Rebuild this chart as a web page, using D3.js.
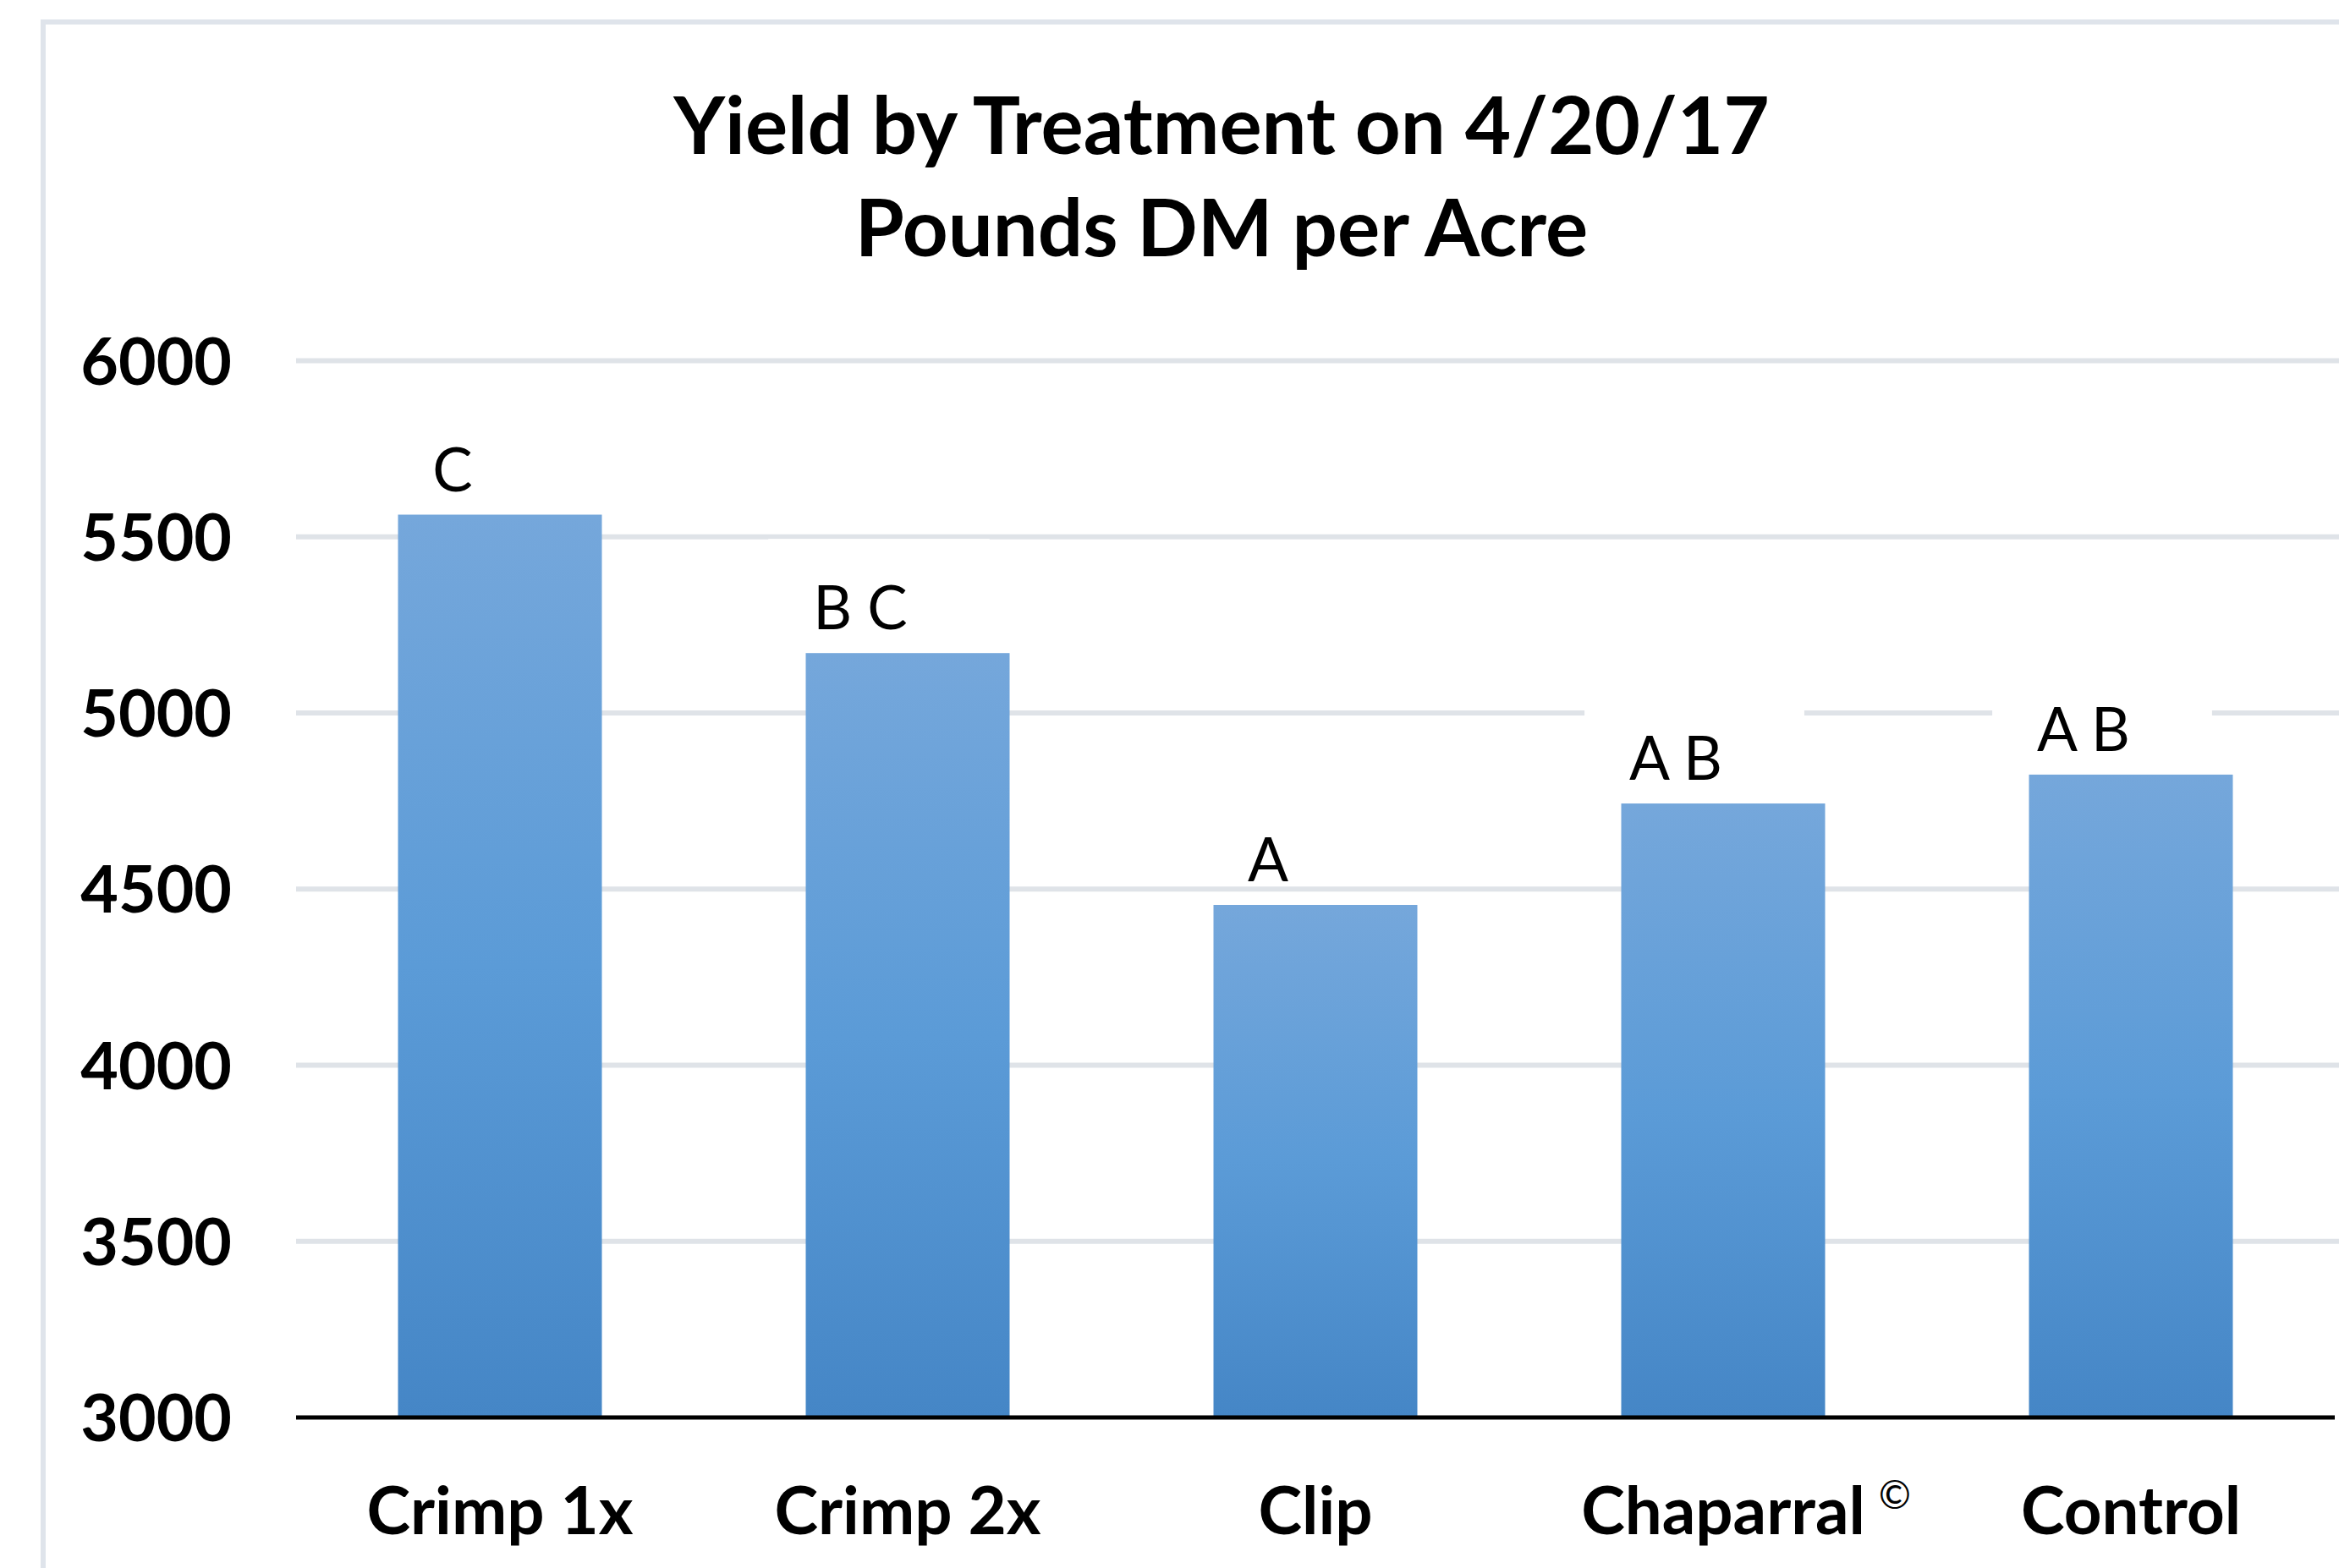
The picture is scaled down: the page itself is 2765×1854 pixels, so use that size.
<!DOCTYPE html>
<html>
<head>
<meta charset="utf-8">
<script src="https://cdn.jsdelivr.net/npm/d3@7"></script>
<style>
  html, body { margin: 0; padding: 0; background: #ffffff; }
  svg { display: block; }
</style>
</head>
<body>
<div id="chart"></div>
<script>
// ---- data ----
const categories = ["Crimp 1x", "Crimp 2x", "Clip", "Chaparral", "Control"];
const yieldValues = [5563, 5170, 4455, 4743, 4825];
const groupLetters = ["C", "B C", "A", "A B", "A B"];
const superscripts = ["", "", "", "\u00A9", ""];
const yTicks = [3000, 3500, 4000, 4500, 5000, 5500, 6000];
const titleLines = ["Yield by Treatment on 4/20/17", "Pounds DM per Acre"];

// ---- layout ----
const W = 2765, H = 1854;
const plotLeft = 350, plotRight = 2760, plotTop = 426.5, plotBottom = 1676;
const font = "Lato, 'Open Sans', sans-serif";

const svg = d3.select("#chart").append("svg")
  .attr("width", W).attr("height", H);

svg.append("rect").attr("width", W).attr("height", H).attr("fill", "#ffffff");

// chart frame (light border)
svg.append("path")
  .attr("d", `M51,${H + 10} L51,26 L${W + 10},26`)
  .attr("fill", "none").attr("stroke", "#dfe4eb").attr("stroke-width", 6);

// gradient
const defs = svg.append("defs");
const grad = defs.append("linearGradient").attr("id", "barGrad")
  .attr("x1", 0).attr("y1", 0).attr("x2", 0).attr("y2", 1);
grad.append("stop").attr("offset", "0%").attr("stop-color", "#75a7db");
grad.append("stop").attr("offset", "50%").attr("stop-color", "#5b9bd7");
grad.append("stop").attr("offset", "100%").attr("stop-color", "#4586c6");

const x = d3.scaleBand().domain(categories).range([plotLeft, plotRight])
  .paddingInner(0.5).paddingOuter(0.25);
const y = d3.scaleLinear().domain([3000, 6000]).range([plotBottom, plotTop]);

// gridlines
const yAxis = d3.axisLeft(y).tickValues(yTicks).tickFormat(d3.format("d"))
  .tickSize(0).tickPadding(0);
const gGrid = svg.append("g");
gGrid.selectAll("line").data(yTicks.filter(t => t !== 3000)).join("line")
  .attr("x1", plotLeft).attr("x2", W)
  .attr("y1", d => y(d)).attr("y2", d => y(d))
  .attr("stroke", "#dfe3e8").attr("stroke-width", 6);

// y axis labels
const gy = svg.append("g").attr("transform", `translate(274,0)`).call(yAxis);
gy.select(".domain").remove();
gy.selectAll("text")
  .attr("font-family", font).attr("font-weight", "bold")
  .attr("font-size", 77).attr("fill", "#000").attr("dy", "0.36em");

// bars
svg.append("g").selectAll("rect").data(categories).join("rect")
  .attr("x", d => x(d))
  .attr("width", x.bandwidth())
  .attr("y", (d, i) => y(yieldValues[i]))
  .attr("height", (d, i) => y(3000) - y(yieldValues[i]))
  .attr("fill", "url(#barGrad)");

// letter labels with white background boxes
const gLab = svg.append("g");
categories.forEach((c, i) => {
  const cx = x(c) + x.bandwidth() / 2 - 56;
  const by = y(yieldValues[i]) - 28;
  const g = gLab.append("g");
  const rect = g.append("rect").attr("fill", "#ffffff");
  const t = g.append("text")
    .attr("x", cx).attr("y", by)
    .attr("text-anchor", "middle")
    .attr("font-family", font).attr("font-size", 71)
    .attr("fill", "#000").text(groupLetters[i]);
  const w = t.node().getComputedTextLength();
  rect.attr("x", cx - w / 2 - 53).attr("width", w + 150)
    .attr("y", by - 52 - 55).attr("height", 100);
});

// axis baseline
svg.append("line")
  .attr("x1", plotLeft).attr("x2", plotRight)
  .attr("y1", y(3000)).attr("y2", y(3000))
  .attr("stroke", "#000").attr("stroke-width", 5);

// category labels
const gx = svg.append("g");
categories.forEach((c, i) => {
  const cx = x(c) + x.bandwidth() / 2;
  const t = gx.append("text")
    .attr("x", cx).attr("y", 1814)
    .attr("text-anchor", "middle")
    .attr("font-family", font).attr("font-weight", "bold")
    .attr("font-size", 78).attr("fill", "#000").text(c);
  if (superscripts[i]) {
    const w = t.node().getComputedTextLength();
    gx.append("text")
      .attr("x", cx + w / 2 + 16).attr("y", 1784)
      .attr("font-family", font).attr("font-size", 46)
      .attr("fill", "#000").text(superscripts[i]);
  }
});

// title
const titleX = 1444;
svg.append("text").attr("x", titleX).attr("y", 182)
  .attr("text-anchor", "middle").attr("font-family", font)
  .attr("font-weight", "bold").attr("font-size", 94).attr("fill", "#000")
  .text(titleLines[0]);
svg.append("text").attr("x", titleX).attr("y", 303)
  .attr("text-anchor", "middle").attr("font-family", font)
  .attr("font-weight", "bold").attr("font-size", 94).attr("fill", "#000")
  .text(titleLines[1]);
</script>
</body>
</html>
